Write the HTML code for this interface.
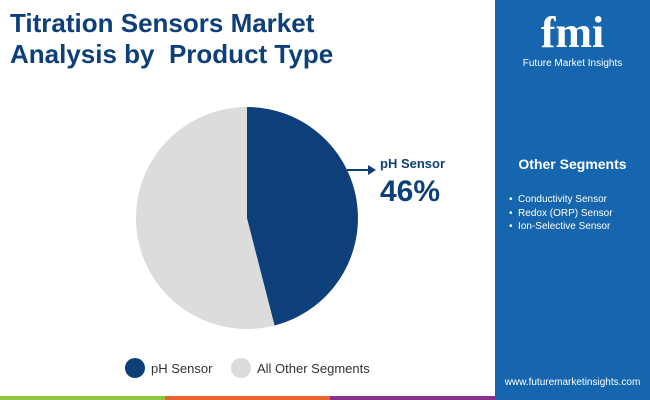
<!DOCTYPE html>
<html><head><style>
body{margin:0;width:650px;height:400px;position:relative;overflow:hidden;background:#fff;font-family:"Liberation Sans",sans-serif}
.t{position:absolute;left:10px;top:8px;font-size:26px;font-weight:bold;color:#0d3f7a;line-height:31px}
.rp{position:absolute;left:495px;top:0;width:155px;height:400px;background:#1566ae}
.bar{position:absolute;top:396px;height:4px}
</style></head><body>
<div class="t">Titration Sensors Market<br>Analysis by&nbsp; Product Type</div>
<svg style="position:absolute;left:0;top:0" width="495" height="400">
<circle cx="247" cy="218" r="111" fill="#dcdcdc"/>
<path d="M247,218 L247,107 A111,111 0 0 1 274.6,325.5 Z" fill="#0d3f7a"/>
<line x1="347" y1="170" x2="370" y2="170" stroke="#0d3f7a" stroke-width="2"/>
<polygon points="368,165 376,170 368,175" fill="#0d3f7a"/>
<text x="380" y="168" font-size="13" font-weight="bold" fill="#0d3f7a">pH Sensor</text>
<text x="380" y="201" font-size="30" font-weight="bold" fill="#0d3f7a">46%</text>
<circle cx="135" cy="368" r="10" fill="#0d3f7a"/>
<text x="151" y="373" font-size="13" fill="#333">pH Sensor</text>
<circle cx="241" cy="368" r="10" fill="#dcdcdc"/>
<text x="257" y="373" font-size="13" fill="#333">All Other Segments</text>
</svg>
<div class="rp">
<div style="position:absolute;left:0;width:155px;top:10px;text-align:center;color:#fff;font-size:44px;font-weight:bold;font-family:'Liberation Serif',serif;line-height:46px">fmi</div>
<div style="position:absolute;left:0;width:155px;top:58px;text-align:center;color:#fff;font-size:10px">Future Market Insights</div>
<div style="position:absolute;left:0;width:155px;top:156px;text-align:center;color:#fff;font-size:14px;font-weight:bold">Other Segments</div>
<div style="position:absolute;left:14px;top:193px;color:#fff;font-size:10px;line-height:13.5px">•&nbsp; Conductivity Sensor<br>•&nbsp; Redox (ORP) Sensor<br>•&nbsp; Ion-Selective Sensor</div>
<div style="position:absolute;left:0;width:155px;top:377px;text-align:center;color:#fff;font-size:10px">www.futuremarketinsights.com</div>
</div>
<div class="bar" style="left:0;width:165px;background:#8dc63f"></div>
<div class="bar" style="left:165px;width:165px;background:#e8622c"></div>
<div class="bar" style="left:330px;width:165px;background:#8a2f8f"></div>
</body></html>
